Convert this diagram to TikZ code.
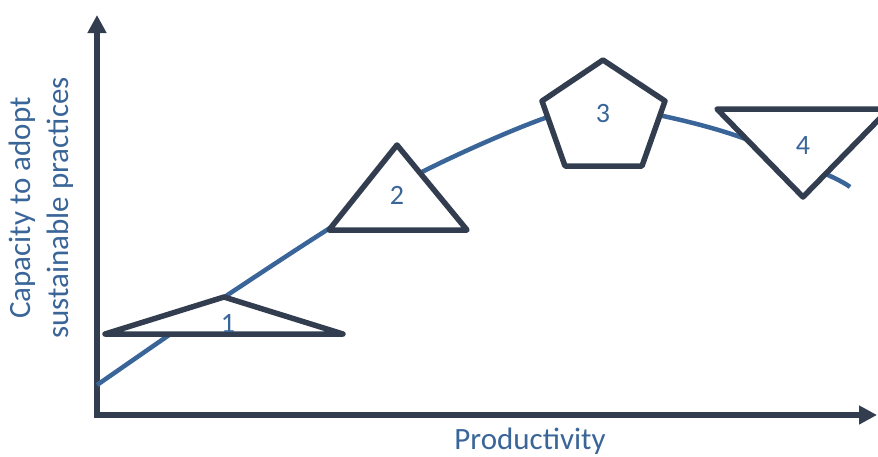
\documentclass[tikz,border=0pt]{standalone}
\usepackage{fontspec}
\setmainfont{Carlito}
\usetikzlibrary{arrows.meta}
\definecolor{axisdark}{HTML}{323E4F}
\definecolor{curveblue}{HTML}{3A6598}
\begin{document}
\begin{tikzpicture}[x=1pt,y=-1pt,
  axis/.style={line width=5.5pt, draw=axisdark, miter limit=10},
  shapeline/.style={line width=5.5pt, draw=axisdark, fill=white, line join=round},
  curve/.style={line width=4.5pt, draw=curveblue},
  num/.style={text=curveblue, font=\fontsize{28}{30}\selectfont, inner sep=0pt},
  axislabel/.style={text=curveblue, font=\fontsize{31}{38}\selectfont, inner sep=0pt, align=center}]
\useasboundingbox (0,0) rectangle (878,456);
% axes
\coordinate (ytop) at (97,15);
\coordinate (origin) at (97,415);
\coordinate (xend) at (877,415);
\draw[axis, {Triangle[length=18pt,width=18pt]}-{Triangle[length=18pt,width=18pt]}] (ytop) -- (origin) -- (xend);
% curve
\draw[curve] plot[smooth, tension=0.6] coordinates {(97,385) (172,333) (226,296) (330,228) (422,172) (545,118) (604,108) (663,116) (743,138) (828,175) (850,187)};
% shapes
\draw[shapeline] (105,334) -- (224,297) -- (343,334) -- cycle;
\draw[shapeline] (329,230) -- (397,145) -- (467,230) -- cycle;
\draw[shapeline] (603,60) -- (665,101) -- (642,166) -- (565,166) -- (542,101) -- cycle;
\draw[shapeline] (717,109) -- (889,109) -- (803,197) -- cycle;
% labels
\node[num] (n1) at (228,323) {1};
\node[num] (n2) at (397,195) {2};
\node[num] (n3) at (603,114) {3};
\node[num] (n4) at (803,146) {4};
\node[axislabel] (xl) at (530,441) {Productivity};
\node[axislabel, rotate=90] (yl) at (41,208) {Capacity to adopt\\sustainable practices};
\end{tikzpicture}
\end{document}
